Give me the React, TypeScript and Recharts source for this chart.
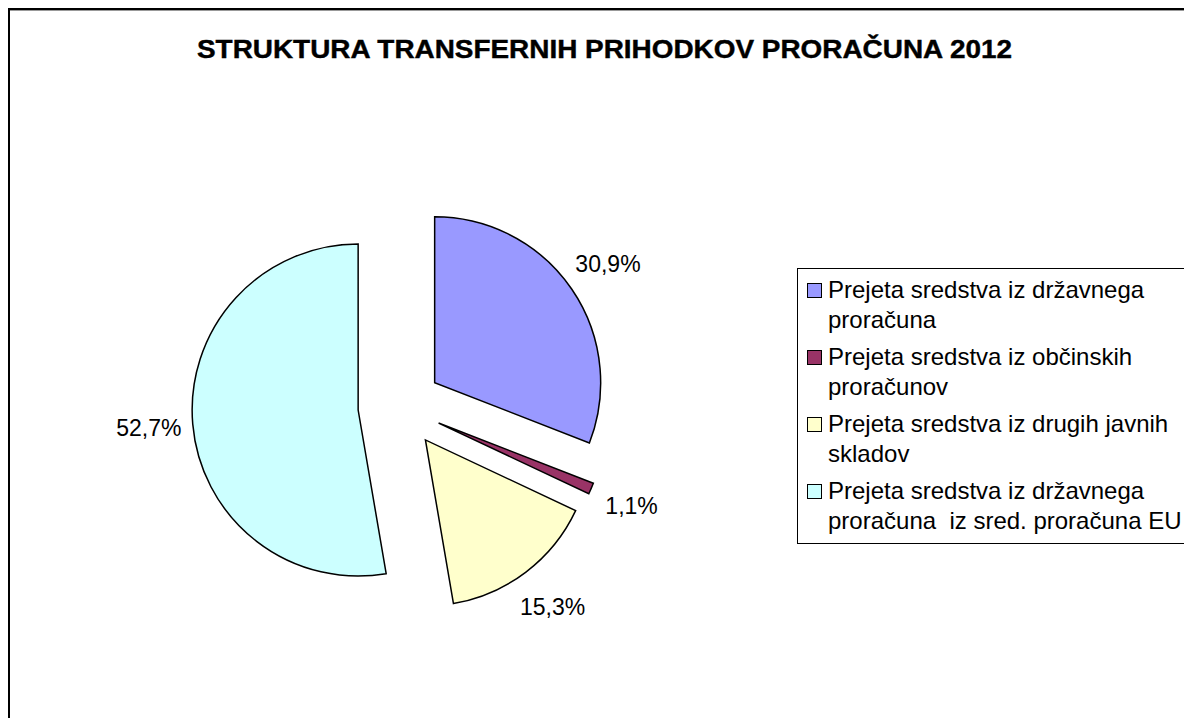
import React from "react";
import { PieChart, Pie, Cell, Sector, Legend } from "recharts";

const categories = [
  "Prejeta sredstva iz državnega proračuna",
  "Prejeta sredstva iz občinskih proračunov",
  "Prejeta sredstva iz drugih javnih skladov",
  "Prejeta sredstva iz državnega proračuna  iz sred. proračuna EU",
];
// legend labels are wrapped in two lines, like the original
const legendLines = [
  ["Prejeta sredstva iz državnega", "proračuna"],
  ["Prejeta sredstva iz občinskih", "proračunov"],
  ["Prejeta sredstva iz drugih javnih", "skladov"],
  ["Prejeta sredstva iz državnega", "proračuna  iz sred. proračuna EU"],
];
const shares = [30.9, 1.1, 15.3, 52.7];
const colors = ["#9999FF", "#993366", "#FFFFCC", "#CCFFFF"];
const title = "STRUKTURA TRANSFERNIH PRIHODKOV PRORAČUNA 2012";

const data = categories.map((name, i) => ({ name, value: shares[i] }));

const RAD = Math.PI / 180;
const EXPLODE = 42;
const FONT = "'Liberation Sans', Arial, sans-serif";

function ExplodedSlice(props: any) {
  const { cx, cy, midAngle, innerRadius, outerRadius, startAngle, endAngle, fill } = props;
  const dx = EXPLODE * Math.cos(-midAngle * RAD);
  const dy = EXPLODE * Math.sin(-midAngle * RAD);
  return (
    <Sector
      cx={cx + dx}
      cy={cy + dy}
      innerRadius={innerRadius}
      outerRadius={outerRadius}
      startAngle={startAngle}
      endAngle={endAngle}
      fill={fill}
      stroke="#000"
      strokeWidth={1.5}
    />
  );
}

function renderLabel(props: any) {
  const { cx, cy, midAngle, value } = props;
  const r = 252;
  const x = cx + r * Math.cos(-midAngle * RAD);
  const y = cy + r * Math.sin(-midAngle * RAD);
  return (
    <text
      x={x}
      y={y}
      textAnchor="middle"
      dominantBaseline="central"
      fill="#000"
      fontSize={23}
      fontFamily={FONT}
    >
      {value.toFixed(1).replace(".", ",")}%
    </text>
  );
}

function LegendBox({ payload }: any) {
  return (
    <div
      style={{
        border: "1px solid #000",
        width: 392,
        height: 276,
        boxSizing: "border-box",
        padding: "6px 0 0 9px",
        fontFamily: FONT,
        fontSize: 24,
        color: "#000",
        background: "#fff",
      }}
    >
      {(payload || []).map((entry: any, i: number) => (
        <div key={i} style={{ display: "flex", alignItems: "flex-start", marginBottom: 8 }}>
          <span
            style={{
              display: "inline-block",
              width: 13,
              height: 13,
              background: colors[i],
              border: "1px solid #000",
              marginTop: 8,
              marginRight: 6,
              flexShrink: 0,
            }}
          />
          <div style={{ lineHeight: "29.5px", whiteSpace: "pre" }}>
            {legendLines[i].map((l, j) => (
              <div key={j}>{l}</div>
            ))}
          </div>
        </div>
      ))}
    </div>
  );
}

export default function App() {
  return (
    <div
      style={{
        position: "relative",
        width: 1184,
        height: 710,
        boxSizing: "border-box",
        overflow: "hidden",
        borderLeft: "2px solid #000",
        borderTop: "2px solid #000",
        boxShadow: "inset 0 1px 0 #999",
        background: "#fff",
      }}
    >
      <PieChart width={1182} height={708}>
        <text
          x={594.5}
          y={48}
          textAnchor="middle"
          fontFamily={FONT}
          fontWeight="bold"
          fontSize={25}
          textLength={815}
          lengthAdjust="spacingAndGlyphs"
          stroke="#000"
          strokeWidth={0.4}
          fill="#000"
        >
          {title}
        </text>
        <Pie
          data={data}
          dataKey="value"
          nameKey="name"
          cx={385}
          cy={391.5}
          outerRadius={166}
          startAngle={90}
          endAngle={-270}
          stroke="#000"
          strokeWidth={1.5}
          shape={ExplodedSlice}
          label={renderLabel}
          labelLine={false}
          isAnimationActive={false}
        >
          {data.map((d, i) => (
            <Cell key={d.name} fill={colors[i]} />
          ))}
        </Pie>
        <Legend
          content={<LegendBox />}
          wrapperStyle={{ left: 787, top: 258, width: 392, height: 276, bottom: "auto", right: "auto" }}
        />
      </PieChart>
    </div>
  );
}
